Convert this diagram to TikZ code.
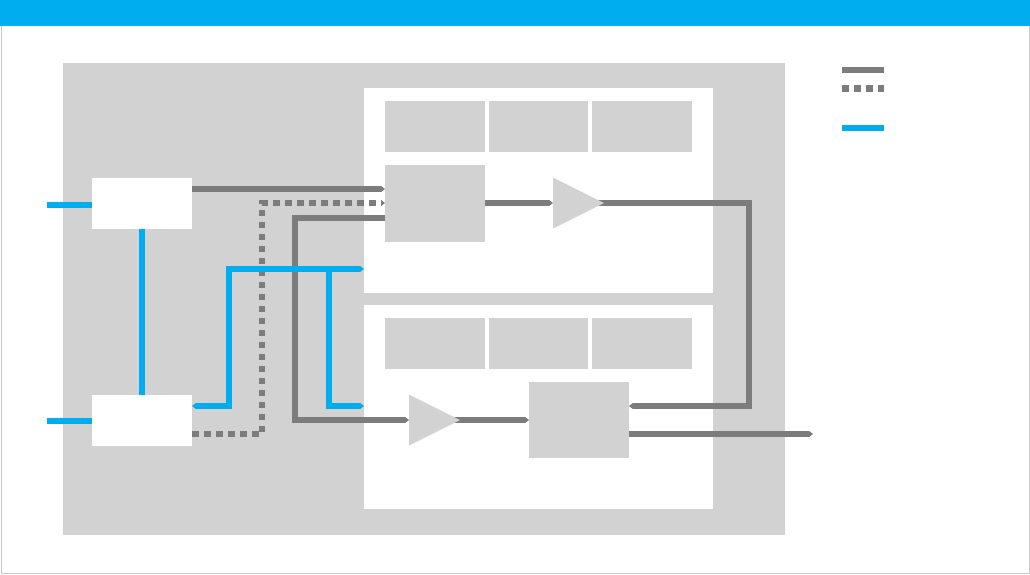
\documentclass[tikz,border=0pt]{standalone}
\usetikzlibrary{arrows.meta,shapes.geometric,backgrounds}
\definecolor{hdrblue}{HTML}{00AEEF}
\definecolor{panelgray}{HTML}{D2D2D2}
\definecolor{linegray}{HTML}{7C7C7C}
\definecolor{framegray}{HTML}{C8C8C8}
\pgfdeclarelayer{wires}
\pgfsetlayers{background,wires,main}
\tikzstyle{every node}+=[inner sep=0pt,outer sep=0pt]
\tikzstyle{whitebox}=[fill=white,anchor=north west]
\tikzstyle{graybox}=[fill=panelgray,anchor=north west]
\tikzstyle{amp}=[fill=panelgray,isosceles triangle,isosceles triangle stretches,minimum width=51pt,minimum height=51pt,anchor=west]
\tikzstyle{sig}=[line width=6pt,linegray]
\tikzstyle{sigdot}=[line width=6.5pt,linegray,dash pattern=on 6.5pt off 5.5pt]
\tikzstyle{ctl}=[line width=6pt,hdrblue]
\tikzstyle{tip}=[-{Triangle[length=4pt,width=6pt]}]
\begin{document}
\begin{tikzpicture}[x=1pt,y=-1pt]
\useasboundingbox (0,0) rectangle (1030,574);

\begin{scope}[on background layer]
\draw[framegray,line width=1pt] (1.5,20) rectangle (1029.5,573.5);
\node[anchor=north west,fill=hdrblue,minimum width=1030pt,minimum height=26pt] (header) at (0,0) {};

\node[graybox,minimum width=722pt,minimum height=472pt] (chip) at (63,63) {};
\node[whitebox,minimum width=349pt,minimum height=205pt] (upper) at (364,88) {};
\node[whitebox,minimum width=349pt,minimum height=204pt] (lower) at (364,305) {};

\foreach \y/\n in {101/a,318/b} {
  \node[graybox,minimum width=100pt,minimum height=51pt] (cell\n1) at (385,\y) {};
  \node[graybox,minimum width=99pt,minimum height=51pt] (cell\n2) at (489,\y) {};
  \node[graybox,minimum width=100pt,minimum height=51pt] (cell\n3) at (592,\y) {};
}

\node[graybox,minimum width=100pt,minimum height=77pt] (blockup) at (385,165) {};
\node[graybox,minimum width=100pt,minimum height=76pt] (blocklow) at (529,382) {};
\node[whitebox,minimum width=100pt,minimum height=51pt] (ctrlup) at (92,178) {};
\node[whitebox,minimum width=100pt,minimum height=51pt] (ctrllow) at (92,395) {};
\end{scope}

\node[amp] (ampup) at (553,203) {};
\node[amp] (amplow) at (409,420) {};

% free ends and taps
\coordinate (inup) at (47,205);
\coordinate (inlow) at (47,421);
\coordinate (out) at (813,434);
\coordinate (upin) at (364,269);
\coordinate (lowin) at (364,406);

\begin{pgfonlayer}{wires}
% gray signals
\draw[sig,tip] (192,189) -- (385,189);
\draw[sigdot,tip] (192,434) -- (262,434) -- (262,203) -- (385,203);
\draw[sig,tip] (385,218) -- (295,218) -- (295,420) -- (amplow.west);
\draw[sig,tip] (blockup.east |- ampup.west) -- (ampup.west);
\draw[sig,tip] (ampup.center) -- (749,203) -- (749,406) -- (629,406);
\draw[sig,tip] (amplow.center) -- (blocklow.west |- amplow.east);
\draw[sig,tip] (blocklow.east |- out) -- (out);

% blue control
\draw[ctl] (inup) -- (ctrlup.west |- inup);
\draw[ctl] (inlow) -- (ctrllow.west |- inlow);
\draw[ctl] (ctrlup) -- (ctrllow);
\draw[ctl,{Triangle[length=4pt,width=6pt]}-{Triangle[length=4pt,width=6pt]}] (192,406) -- (229,406) -- (229,269) -- (upin);
\draw[ctl,tip] (329,269) -- (329,406) -- (lowin);

% legend
\coordinate (keya) at (842,70);
\coordinate (keyb) at (842,88.5);
\coordinate (keyc) at (842,128);
\draw[sig] (keya) -- ++(42,0);
\draw[sigdot] (keyb) -- ++(42,0);
\draw[ctl] (keyc) -- ++(42,0);
\end{pgfonlayer}
\end{tikzpicture}
\end{document}
